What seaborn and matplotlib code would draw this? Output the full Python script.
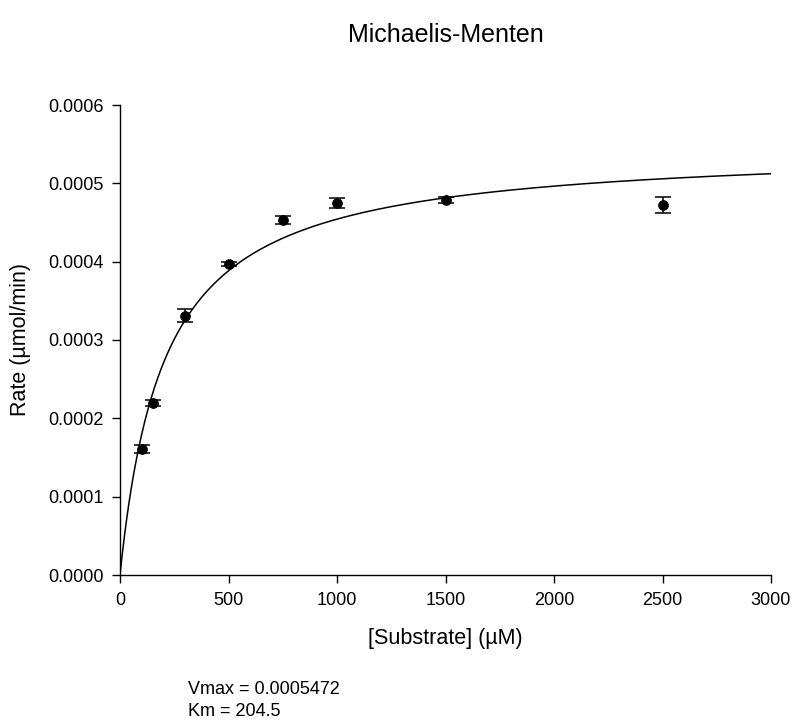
import numpy as np
import pandas as pd
import matplotlib
matplotlib.use("Agg")
import matplotlib.pyplot as plt
import seaborn as sns

substrate = [100, 150, 300, 500, 750, 1000, 1500, 2500]
rate = [0.000161, 0.000220, 0.000331, 0.000397, 0.000453, 0.000475, 0.000479, 0.000472]
rate_err = [0.000005, 0.000004, 0.000008, 0.000003, 0.000005, 0.000006, 0.000004, 0.0000105]
vmax = 0.0005472
km = 204.5
x_ticks = [0, 500, 1000, 1500, 2000, 2500, 3000]
y_ticks = [0.0, 0.0001, 0.0002, 0.0003, 0.0004, 0.0005, 0.0006]

sns.set_theme(style="ticks")
plt.rcParams['font.family'] = ['Liberation Sans', 'DejaVu Sans']
plt.rcParams['text.color'] = 'black'
plt.rcParams['axes.labelcolor'] = 'black'

fig = plt.figure(figsize=(7.94, 7.25), dpi=100)
ax = fig.add_axes([120/794, 1-575/725, (771-120)/794, (575-105)/725])

s_fit = np.linspace(0, 3000, 600)
fit = pd.DataFrame({"s": s_fit, "v": vmax * s_fit / (km + s_fit)})
sns.lineplot(data=fit, x="s", y="v", ax=ax, color="black", linewidth=1.1)

df = pd.DataFrame({"s": substrate, "v": rate, "e": rate_err})
ax.errorbar(df["s"], df["v"], yerr=df["e"], fmt="none", ecolor="black",
            elinewidth=1.1, capsize=6, capthick=1.1, zorder=3)
sns.scatterplot(data=df, x="s", y="v", ax=ax, color="black", s=50,
                edgecolor="black", zorder=4)

ax.set_xlim(0, 3000)
ax.set_ylim(0, 0.0006)
ax.set_xticks(x_ticks)
ax.set_yticks(y_ticks)
ax.set_yticklabels([f"{v:.4f}" for v in y_ticks])
ax.tick_params(direction="out", length=6, width=1, labelsize=13, colors="black", pad=6)
for sp in ["left", "bottom"]:
    ax.spines[sp].set_linewidth(1)
    ax.spines[sp].set_color("black")
sns.despine(ax=ax)

ax.set_xlabel("[Substrate] (µM)", fontsize=15.5, labelpad=14)
ax.set_ylabel("Rate (µmol/min)", fontsize=15.5, labelpad=12)
fig.text(446/794, 1-35/725, "Michaelis-Menten", ha="center", va="center", fontsize=18)
fig.text(188/794, 1-689/725, f"Vmax = {vmax}", ha="left", va="center", fontsize=13)
fig.text(188/794, 1-712/725, f"Km = {km}", ha="left", va="center", fontsize=13)

fig.savefig("out.png", dpi=100)
